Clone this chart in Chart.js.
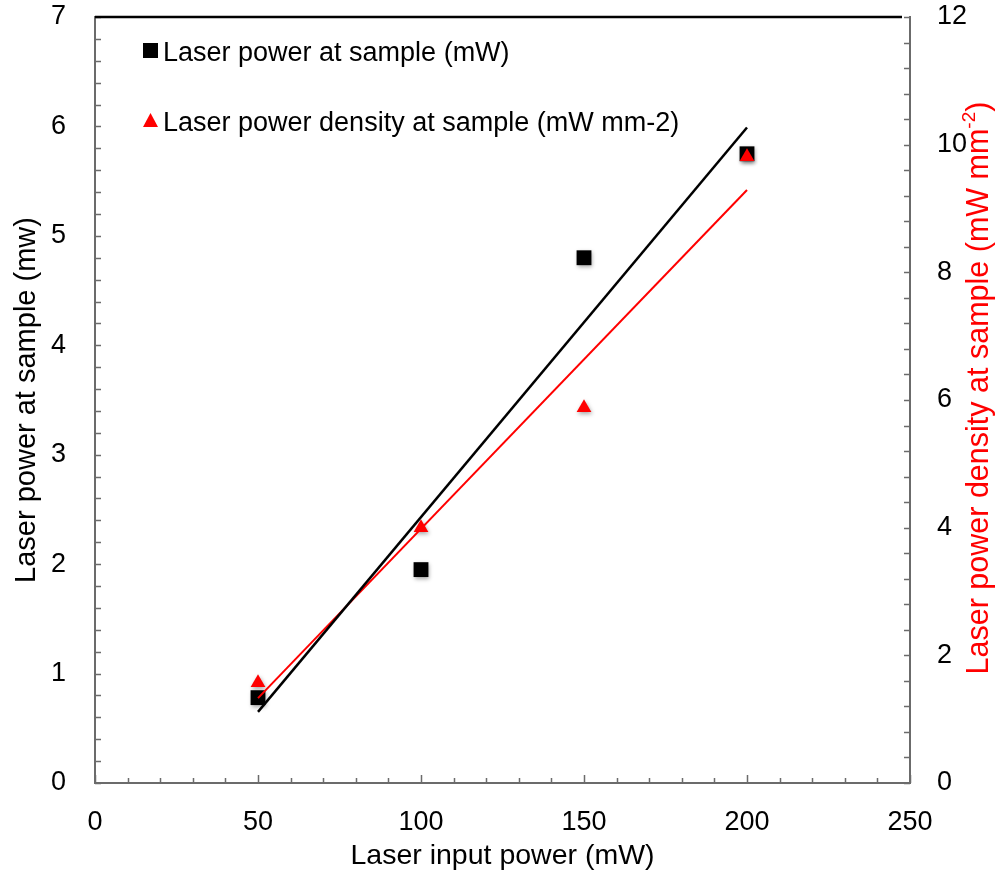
<!DOCTYPE html>
<html lang="en">
<head>
<meta charset="UTF-8" />
<title>Laser power at sample</title>
<script src="https://cdn.jsdelivr.net/npm/chart.js@4"></script>
<style>
  * { margin: 0; padding: 0; box-sizing: border-box; }
  body { width: 995px; height: 876px; background: #fff; overflow: hidden; }
  canvas { display: block; }
</style>
</head>
<body>
<canvas id="chart" width="995" height="876"></canvas>
<script>
// data
const inputPower = [50, 100, 150, 200];
const powerAtSample = [0.78, 1.95, 4.8, 5.75];
const densityAtSample = [1.57, 4.0, 5.88, 9.81];
const fitRange = [50, 200];
const powerFit = [0.65, 5.99];
const densityFit = [1.33, 9.29];
const xTicks = [0, 50, 100, 150, 200, 250];
const leftTicks = [0, 1, 2, 3, 4, 5, 6, 7];
const rightTicks = [0, 2, 4, 6, 8, 10, 12];
const legendLabels = ["Laser power at sample (mW)", "Laser power density at sample (mW mm-2)"];

const FONT = '"Liberation Sans", Arial, sans-serif';
const AXIS = "#6b6b6b";

const pts = (xs, ys) => xs.map((x, i) => ({ x: x, y: ys[i] }));
const setTicks = (list) => (s) => { s.ticks = list.map((v) => ({ value: v })); };
const fixY = (w) => (s) => { s.width = w; s.paddingTop = 0; s.paddingBottom = 0; };

// inner tick marks, top frame line, legend and right axis title
const frame = {
  id: "frame",
  beforeDatasetDraw(chart, args) {
    if (chart.data.datasets[args.index].shadow) {
      const ctx = chart.ctx;
      ctx.save();
      ctx.shadowColor = "rgba(0,0,0,0.35)";
      ctx.shadowBlur = 4;
      ctx.shadowOffsetX = 1;
      ctx.shadowOffsetY = 2;
    }
  },
  afterDatasetDraw(chart, args) {
    if (chart.data.datasets[args.index].shadow) chart.ctx.restore();
  },
  afterDraw(chart) {
    const ctx = chart.ctx;
    const { x, y, y2 } = chart.scales;
    const a = chart.chartArea;
    ctx.save();
    ctx.strokeStyle = AXIS;
    ctx.lineWidth = 1.5;
    ctx.beginPath();
    for (let v = 0; v <= 250; v += 10) {
      const px = Math.round(x.getPixelForValue(v)) + 0.5;
      const len = v % 50 === 0 ? 8 : 5;
      ctx.moveTo(px, a.bottom);
      ctx.lineTo(px, a.bottom - len);
    }
    for (let i = 0; i <= 35; i++) {
      const py = Math.round(y.getPixelForValue(i * 0.2)) + 0.5;
      ctx.moveTo(a.left, py);
      ctx.lineTo(a.left + 6, py);
    }
    for (let i = 0; i <= 30; i++) {
      const py = Math.round(y2.getPixelForValue(i * 0.4)) + 0.5;
      ctx.moveTo(a.right, py);
      ctx.lineTo(a.right - 6, py);
    }
    ctx.stroke();

    // top frame
    ctx.strokeStyle = "#000";
    ctx.lineWidth = 2.5;
    ctx.beginPath();
    ctx.moveTo(a.left, a.top);
    ctx.lineTo(a.right - 8, a.top);
    ctx.stroke();

    // legend
    ctx.fillStyle = "#000";
    ctx.fillRect(143, 43, 15, 15);
    ctx.fillStyle = "#ff0000";
    ctx.beginPath();
    ctx.moveTo(150.5, 113);
    ctx.lineTo(158, 127);
    ctx.lineTo(143, 127);
    ctx.closePath();
    ctx.fill();
    ctx.fillStyle = "#000";
    ctx.font = "27px " + FONT;
    ctx.textBaseline = "alphabetic";
    ctx.fillText(legendLabels[0], 163, 61);
    ctx.fillText(legendLabels[1], 163, 131);

    // right axis title, reading bottom to top, with superscript
    ctx.translate(980, 388);
    ctx.rotate(-Math.PI / 2);
    ctx.fillStyle = "#ff0000";
    ctx.textBaseline = "middle";
    const main = "Laser power density at sample (mW mm";
    ctx.font = "30.5px " + FONT;
    const wMain = ctx.measureText(main).width;
    const wTail = ctx.measureText(")").width;
    ctx.font = "19px " + FONT;
    const wSup = ctx.measureText("-2").width;
    let tx = -(wMain + wSup + wTail) / 2;
    ctx.font = "30.5px " + FONT;
    ctx.fillText(main, tx, 0);
    tx += wMain;
    ctx.font = "19px " + FONT;
    ctx.fillText("-2", tx, -10);
    tx += wSup;
    ctx.font = "30.5px " + FONT;
    ctx.fillText(")", tx, 0);
    ctx.restore();
  }
};

new Chart(document.getElementById("chart"), {
  type: "scatter",
  plugins: [frame],
  data: {
    datasets: [
      {
        data: pts(fitRange, powerFit),
        yAxisID: "y",
        showLine: true,
        borderColor: "#000",
        borderWidth: 2.5,
        pointRadius: 0,
        order: 0
      },
      {
        data: pts(fitRange, densityFit),
        yAxisID: "y2",
        showLine: true,
        borderColor: "#ff0000",
        borderWidth: 2,
        pointRadius: 0,
        order: 0
      },
      {
        data: pts(inputPower, powerAtSample),
        yAxisID: "y",
        pointStyle: "rect",
        pointRadius: 10.5,
        backgroundColor: "#000",
        borderWidth: 0,
        shadow: true,
        order: 2
      },
      {
        data: pts(inputPower, densityAtSample),
        yAxisID: "y2",
        pointStyle: "triangle",
        pointRadius: 8.5,
        backgroundColor: "#ff0000",
        borderWidth: 0,
        shadow: true,
        order: 1
      }
    ]
  },
  options: {
    responsive: false,
    animation: false,
    devicePixelRatio: 1,
    layout: { padding: { top: 17, right: 0, left: 0, bottom: 0 } },
    plugins: { legend: { display: false }, tooltip: { enabled: false } },
    scales: {
      x: {
        type: "linear",
        min: 0,
        max: 250,
        afterBuildTicks: setTicks(xTicks),
        afterFit: (s) => { s.height = 93; },
        grid: { display: false },
        border: { display: true, color: AXIS, width: 2 },
        ticks: { color: "#000", font: { size: 27, family: FONT }, padding: 15 },
        title: {
          display: true,
          text: "Laser input power (mW)",
          color: "#000",
          font: { size: 28.5, family: FONT },
          padding: { bottom: 3 }
        }
      },
      y: {
        position: "left",
        min: 0,
        max: 7,
        afterBuildTicks: setTicks(leftTicks),
        afterFit: fixY(95),
        grid: { display: false },
        border: { display: true, color: AXIS, width: 2 },
        ticks: { color: "#000", font: { size: 27, family: FONT }, padding: 21 },
        title: {
          display: true,
          text: "Laser power at sample (mw)",
          color: "#000",
          font: { size: 29, family: FONT },
          padding: { top: 10 }
        }
      },
      y2: {
        position: "right",
        min: 0,
        max: 12,
        afterBuildTicks: setTicks(rightTicks),
        afterFit: fixY(85),
        grid: { display: false },
        border: { display: true, color: AXIS, width: 2 },
        ticks: { color: "#000", font: { size: 27, family: FONT }, padding: 19 }
      }
    }
  }
});
</script>
</body>
</html>
